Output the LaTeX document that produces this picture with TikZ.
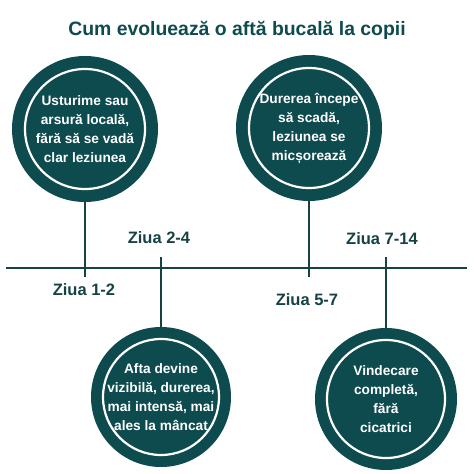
\documentclass[tikz,border=0pt]{standalone}
\usepackage{fontspec}
\setmainfont{Liberation Sans}
\definecolor{teal}{RGB}{14,75,79}
\definecolor{ink}{RGB}{22,66,68}
\begin{document}
\begin{tikzpicture}[x=1pt, y=-1pt,
		bubble/.style={circle, fill=teal, inner sep=0pt, text=white,
			align=center, font=\bfseries\fontsize{13.7}{19}\selectfont},
		ring/.style={draw=white, line width=2.2pt},
		stem/.style={draw=ink, line width=1.8pt},
		day/.style={text=ink, font=\bfseries\fontsize{16.5}{19}\selectfont}
		]
	\useasboundingbox (0,0) rectangle (474,474);
	\node [text=teal, font=\bfseries\fontsize{19.4}{22}\selectfont] (title) at (237,30) {Cum evoluează o aftă bucală la copii};
	% timeline
	\coordinate (tl) at (6,268);
	\coordinate (tr) at (467,268);
	\draw [stem] (tl) -- (tr);
	% stages
	\node [bubble, minimum size=146pt] (s1) at (85,129) {Usturime sau\\arsură locală,\\fără să se vadă\\clar leziunea};
	\node [bubble, minimum size=140pt] (s2) at (161,397) {Afta devine\\vizibilă, durerea,\\mai intensă, mai\\ales la mâncat};
	\node [bubble, minimum size=146pt] (s3) at (309,128) {Durerea începe\\să scadă,\\leziunea se\\micșorează};
	\node [bubble, minimum size=142pt] (s4) at (386,399) {Vindecare\\completă,\\fără\\cicatrici};
	\draw [ring] (s1.center) circle [radius=60];
	\draw [ring] (s2.center) circle [radius=58];
	\draw [ring] (s3.center) circle [radius=60];
	\draw [ring] (s4.center) circle [radius=59];
	% stems
	\coordinate (e1) at (85,277);
	\coordinate (e2) at (161,257);
	\coordinate (e3) at (309,277);
	\coordinate (e4) at (386,257);
	\draw [stem] (s1.south) -- (e1);
	\draw [stem] (e2) -- (s2.north);
	\draw [stem] (s3.south) -- (e3);
	\draw [stem] (e4) -- (s4.north);
	% days
	\node [day] (d1) at (84,290) {Ziua 1-2};
	\node [day] (d2) at (159,238) {Ziua 2-4};
	\node [day] (d3) at (307,300) {Ziua 5-7};
	\node [day] (d4) at (382,239) {Ziua 7-14};
\end{tikzpicture}
\end{document}
